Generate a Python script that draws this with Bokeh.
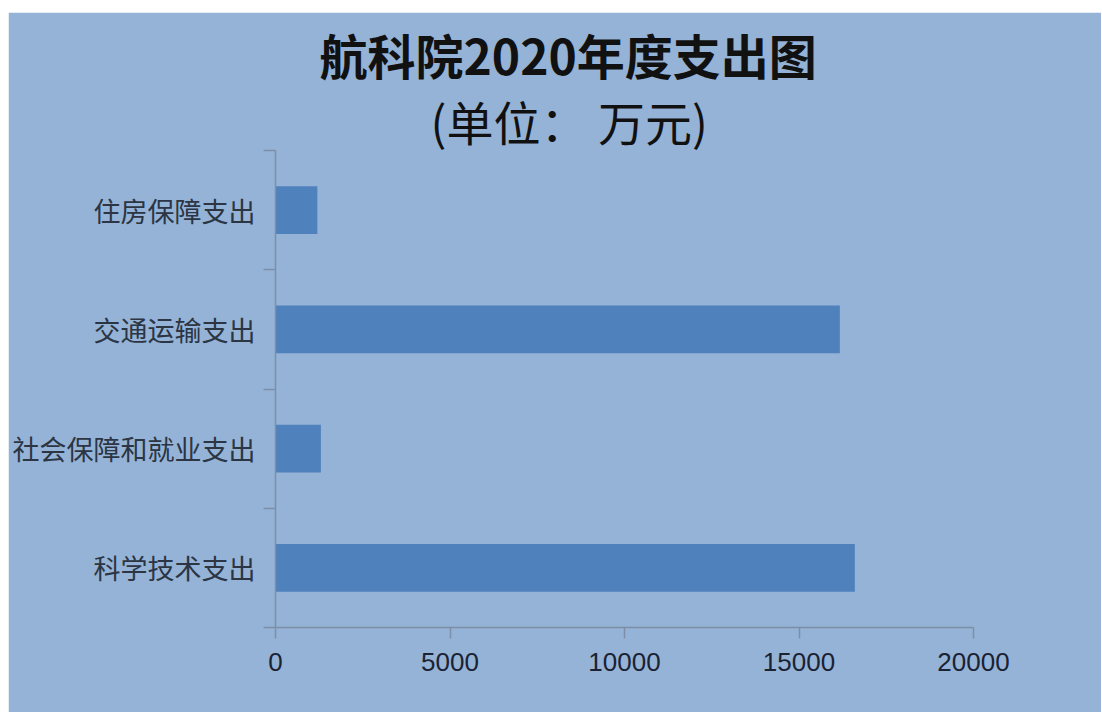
from bokeh.plotting import figure
from bokeh.models import Range1d, FixedTicker, Title, ColumnDataSource
from bokeh.embed import file_html
from bokeh.resources import INLINE

# data (bottom to top)
categories = ["科学技术支出", "社会保障和就业支出", "交通运输支出", "住房保障支出"]
values = [16600, 1300, 16170, 1200]
x_ticks = [0, 5000, 10000, 15000, 20000]
title_line1 = "航科院2020年度支出图"
title_line2 = "(单位：  万元)"

BG = "#95b3d7"
BAR = "#4f81bd"
AXIS = "#7d8ea6"

positions = [i + 0.5 for i in range(len(categories))]
src = ColumnDataSource(dict(y=positions, v=values, cat=categories))

W, H = 1093, 700
OX, OY = 8, 12
p = figure(width=W, height=H, output_backend="svg", toolbar_location=None,
           title_location=None,
           x_range=Range1d(0, 20000), y_range=Range1d(0, len(categories)),
           min_border_left=275 - OX, min_border_right=(OX + W) - 973,
           min_border_top=150 - OY, min_border_bottom=(OY + H) - 627)
p.margin = (OY, 0, 0, OX)

p.background_fill_color = BG
p.border_fill_color = BG
p.outline_line_color = BG
p.outline_line_width = 2
p.xgrid.visible = False
p.ygrid.visible = False

p.hbar(y="y", right="v", left=0, height=0.4, source=src,
       fill_color=BAR, line_color=None)

# x axis
p.xaxis.ticker = FixedTicker(ticks=x_ticks)
p.xaxis.axis_line_color = AXIS
p.xaxis.axis_line_width = 1.5
p.xaxis.major_tick_line_color = AXIS
p.xaxis.major_tick_line_width = 1.5
p.xaxis.major_tick_in = 0
p.xaxis.major_tick_out = 11
p.xaxis.minor_tick_line_color = None
p.xaxis.major_label_text_font = "Liberation Sans"
p.xaxis.major_label_text_font_size = "26px"
p.xaxis.major_label_text_color = "#1b2233"
p.xaxis.major_label_standoff = 14

# y axis: labels at category centres, ticks at category boundaries
p.yaxis.ticker = FixedTicker(ticks=positions,
                             minor_ticks=list(range(len(categories) + 1)))
p.yaxis.major_label_overrides = {pos: c for pos, c in zip(positions, categories)}
p.yaxis.axis_line_color = AXIS
p.yaxis.axis_line_width = 1.5
p.yaxis.major_tick_line_color = None
p.yaxis.major_tick_in = 0
p.yaxis.major_tick_out = 0
p.yaxis.minor_tick_line_color = AXIS
p.yaxis.minor_tick_line_width = 1.5
p.yaxis.minor_tick_in = 0
p.yaxis.minor_tick_out = 12
p.yaxis.major_label_text_font = "Noto Sans CJK SC"
p.yaxis.major_label_text_font_size = "27px"
p.yaxis.major_label_text_color = "#2b3543"
p.yaxis.major_label_standoff = 8

# title: second line first (nearest the plot), then the main line
p.add_layout(Title(text=title_line2, align="left", offset=155, standoff=-9,
                   text_font="Noto Sans CJK SC", text_font_style="normal",
                   text_font_size="47px", text_color="#111111"), "above")
p.add_layout(Title(text=title_line1, align="left", offset=44, standoff=0,
                   text_font="Noto Sans CJK SC", text_font_style="bold",
                   text_font_size="48px", text_color="#111111"), "above")

open("out.html", "w").write(file_html(p, INLINE))
